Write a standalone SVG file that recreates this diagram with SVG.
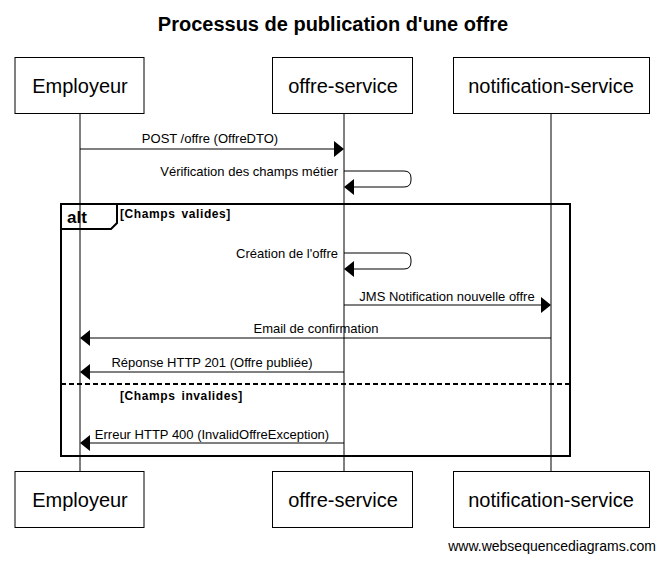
<svg xmlns="http://www.w3.org/2000/svg" width="665" height="561" viewBox="0 0 665 561">
<defs>
<style>
.t{font-family:"Liberation Sans",Arial,sans-serif;fill:#000}
.box{fill:#fff;stroke:#000;stroke-width:1}
.pn{font-size:20px;text-anchor:middle}
.msg{font-size:13px}
.life{stroke:#000;stroke-width:1}
.arr{stroke:#000;stroke-width:1;fill:none}
.hd{fill:#000;stroke:none}
.frame{fill:none;stroke:#000;stroke-width:2}
.g{font-size:12px;font-weight:bold;letter-spacing:0.6px;word-spacing:2px}
</style>
</defs>
<rect width="665" height="561" fill="#fff"/>
<text class="t" x="333" y="31" font-size="20" font-weight="bold" text-anchor="middle">Processus de publication d'une offre</text>

<g id="lifelines">
<line class="life" x1="80" y1="114" x2="80" y2="471"/>
<line class="life" x1="344" y1="114" x2="344" y2="471"/>
<line class="life" x1="551" y1="114" x2="551" y2="471"/>
</g>

<g id="frame-alt">
<rect class="frame" x="61" y="204" width="509" height="252"/>
<path class="frame" d="M61,229 H111 L117,223 V204" stroke-width="1.5"/>
<text class="t" x="67" y="223" font-size="17" font-weight="bold">alt</text>
<text class="t g" x="120" y="218">[Champs valides]</text>
<line x1="61" y1="384" x2="570" y2="384" stroke="#000" stroke-width="2" stroke-dasharray="5,3"/>
<text class="t g" x="120" y="400">[Champs invalides]</text>
</g>

<g id="connectors">
<line class="arr" x1="80" y1="149" x2="335" y2="149"/>
<polygon class="hd" points="344,149 334,141 334,157"/>
<text class="t msg" x="210" y="143" text-anchor="middle">POST /offre (OffreDTO)</text>

<path class="arr" d="M344,171 H404 Q411,171 411,178 V180 Q411,187 404,187 H353"/>
<polygon class="hd" points="344,187 354,179 354,195"/>
<text class="t msg" x="338" y="176" text-anchor="end">Vérification des champs métier</text>

<path class="arr" d="M344,253 H404 Q411,253 411,260 V262 Q411,269 404,269 H353"/>
<polygon class="hd" points="344,269 354,261 354,277"/>
<text class="t msg" x="338" y="258" text-anchor="end">Création de l'offre</text>

<line class="arr" x1="344" y1="305" x2="542" y2="305"/>
<polygon class="hd" points="551,305 541,297 541,313"/>
<text class="t msg" x="447" y="301" text-anchor="middle">JMS Notification nouvelle offre</text>

<line class="arr" x1="551" y1="338" x2="89" y2="338"/>
<polygon class="hd" points="80,338 90,330 90,346"/>
<text class="t msg" x="316" y="333" text-anchor="middle">Email de confirmation</text>

<line class="arr" x1="344" y1="372" x2="89" y2="372"/>
<polygon class="hd" points="80,372 90,364 90,380"/>
<text class="t msg" x="212" y="367" text-anchor="middle">Réponse HTTP 201 (Offre publiée)</text>

<line class="arr" x1="344" y1="443" x2="89" y2="443"/>
<polygon class="hd" points="80,443 90,435 90,451"/>
<text class="t msg" x="212" y="439" text-anchor="middle">Erreur HTTP 400 (InvalidOffreException)</text>
</g>

<g id="p-employeur-top"><rect class="box" x="15" y="57.5" width="129" height="56"/><text class="t pn" x="80" y="93">Employeur</text></g>
<g id="p-offre-top"><rect class="box" x="272.5" y="57.5" width="140" height="56"/><text class="t pn" x="343" y="93">offre-service</text></g>
<g id="p-notif-top"><rect class="box" x="453.5" y="57.5" width="196" height="56"/><text class="t pn" x="551" y="93">notification-service</text></g>

<g id="p-employeur-bot"><rect class="box" x="15" y="471.5" width="129" height="56"/><text class="t pn" x="80" y="507">Employeur</text></g>
<g id="p-offre-bot"><rect class="box" x="272.5" y="471.5" width="140" height="56"/><text class="t pn" x="343" y="507">offre-service</text></g>
<g id="p-notif-bot"><rect class="box" x="453.5" y="471.5" width="196" height="56"/><text class="t pn" x="551" y="507">notification-service</text></g>

<text class="t" x="656" y="551" font-size="14" text-anchor="end">www.websequencediagrams.com</text>
</svg>
